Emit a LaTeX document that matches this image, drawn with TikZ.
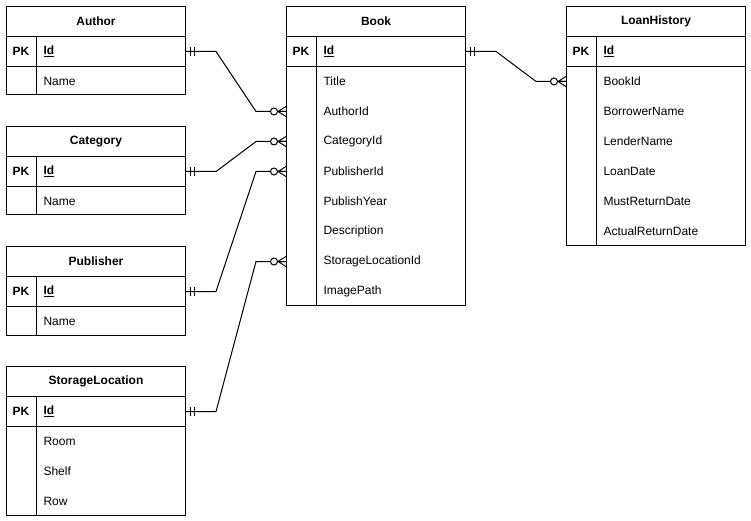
\documentclass[tikz,border=0pt]{standalone}
\usepackage{fontspec}
\setmainfont{Liberation Sans}
\begin{document}
\begin{tikzpicture}[x=1pt,y=-1pt,line width=1pt,
  every node/.style={font=\fontsize{12}{14}\selectfont, inner sep=0pt},
  hdr/.style={draw, minimum width=179pt, minimum height=30pt,
    font=\fontsize{12}{14}\selectfont\bfseries},
  keyrow/.style={draw, minimum width=179pt, minimum height=30pt},
  attrrow/.style={minimum width=179pt, minimum height=30pt},
  link/.style={line width=1pt},
  onemark/.pic={\draw (4,-4.5) -- (4,4.5) (8,-4.5) -- (8,4.5);},
  manymark/.pic={\draw (-8,0) -- (0,-5) (-8,0) -- (0,5) (-8,0) -- (0,0);
    \draw[fill=white] (-12,0) circle (3.5);}]

% canvas
\fill[white] (0,0) rectangle (751,521);
\useasboundingbox (0,0) rectangle (751,521);

% #1 id, #2 left, #3 top, #4 title, #5 attributes, #6 number of attributes
\newcommand{\ertable}[6]{%
  \node[hdr, anchor=north west] (#1) at (#2,#3) {#4};
  \node[keyrow, anchor=north west] (#1-id) at (#2,#3+30) {};
  \node[font=\fontsize{12}{14}\selectfont\bfseries] at ([xshift=15]#1-id.west) {PK};
  \node[anchor=west, font=\fontsize{12}{14}\selectfont\bfseries]
    at ([xshift=37]#1-id.west) {\underline{Id}};
  \foreach \a [count=\i] in {#5} {
    \node[attrrow, anchor=north west] (#1-\i) at (#2,{#3+60+30*(\i-1)}) {};
    \node[anchor=west] at ([xshift=37]#1-\i.west) {\a};
  }
  \draw (#2,#3+60) -- (#2,{#3+59+30*#6}) -- ({#2+179},{#3+59+30*#6}) -- ({#2+179},#3+60);
  \draw (#2+30,#3+30) -- (#2+30,{#3+59+30*#6});
}

\ertable{author}{6}{6}{Author}{Name}{1}
\ertable{category}{6}{126}{Category}{Name}{1}
\ertable{publisher}{6}{246}{Publisher}{Name}{1}
\ertable{storage}{6}{366}{StorageLocation}{Room,Shelf,Row}{3}
\ertable{book}{286}{6}{Book}{Title,AuthorId,CategoryId,PublisherId,PublishYear,Description,StorageLocationId,ImagePath}{8}
\ertable{loan}{566}{6}{LoanHistory}{BookId,BorrowerName,LenderName,LoanDate,MustReturnDate,ActualReturnDate}{6}

% relationships
\draw[link] (author-id.east) -- ++(30,0) -- ([xshift=-30]book-2.west) -- (book-2.west);
\draw[link] (category-id.east) -- ++(30,0) -- ([xshift=-30]book-3.west) -- (book-3.west);
\draw[link] (publisher-id.east) -- ++(30,0) -- ([xshift=-30]book-4.west) -- (book-4.west);
\draw[link] (storage-id.east) -- ++(30,0) -- ([xshift=-30]book-7.west) -- (book-7.west);
\draw[link] (book-id.east) -- ++(30,0) -- ([xshift=-30]loan-1.west) -- (loan-1.west);

% cardinality markers
\path (author-id.east) pic {onemark};
\path (category-id.east) pic {onemark};
\path (publisher-id.east) pic {onemark};
\path (storage-id.east) pic {onemark};
\path (book-id.east) pic {onemark};
\path (book-2.west) pic {manymark};
\path (book-3.west) pic {manymark};
\path (book-4.west) pic {manymark};
\path (book-7.west) pic {manymark};
\path (loan-1.west) pic {manymark};
\end{tikzpicture}
\end{document}
